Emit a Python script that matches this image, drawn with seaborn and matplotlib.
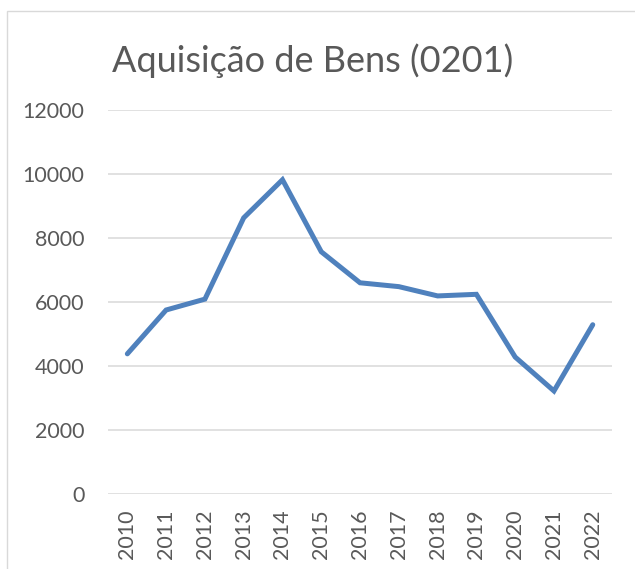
import matplotlib
matplotlib.use('Agg')
import matplotlib.pyplot as plt
import pandas as pd
import seaborn as sns
from matplotlib.patches import Rectangle

# Dados
anos = ['2010', '2011', '2012', '2013', '2014', '2015', '2016',
        '2017', '2018', '2019', '2020', '2021', '2022']
valores = [4380, 5750, 6090, 8630, 9820, 7570, 6600,
           6480, 6190, 6240, 4280, 3220, 5290]
titulo = 'Aquisição de Bens (0201)'

df = pd.DataFrame({'ano': anos, 'valor': valores})

sns.set_style('white')
plt.rcParams['font.family'] = ['Lato', 'DejaVu Sans']

fig = plt.figure(figsize=(6.35, 5.69), dpi=100)
ax = fig.add_axes([0.170, 0.1318, 0.794, 0.6749])

sns.lineplot(data=df, x='ano', y='valor', ax=ax, color='#4F81BD',
             linewidth=3.6, sort=False, solid_capstyle='round',
             solid_joinstyle='miter')

# Eixos e grade
ax.set_ylim(0, 12000)
ax.set_xlim(-0.5, len(anos) - 0.5)
ax.set_yticks(range(0, 12001, 2000))
ax.yaxis.grid(True, color='#D9D9D9', linewidth=1.1)
ax.set_axisbelow(True)
for s in ax.spines.values():
    s.set_visible(False)
ax.tick_params(axis='both', length=0, labelsize=15.5, labelcolor='#595959')
ax.tick_params(axis='x', rotation=90, pad=11)
ax.tick_params(axis='y', pad=17)
ax.set_xlabel('')
ax.set_ylabel('')

# Título
fig.text(0.492, 0.893, titulo, ha='center', va='center',
         fontsize=26, color='#595959')

# Borda do gráfico (só esquerda e topo visíveis)
fig.patches.append(Rectangle((7 / 635, -0.05), 1.2, (569 - 11) / 569 + 0.05,
                             transform=fig.transFigure, fill=False,
                             edgecolor='#D9D9D9', linewidth=1.0))

fig.savefig('out.png', dpi=100)
plt.close()
